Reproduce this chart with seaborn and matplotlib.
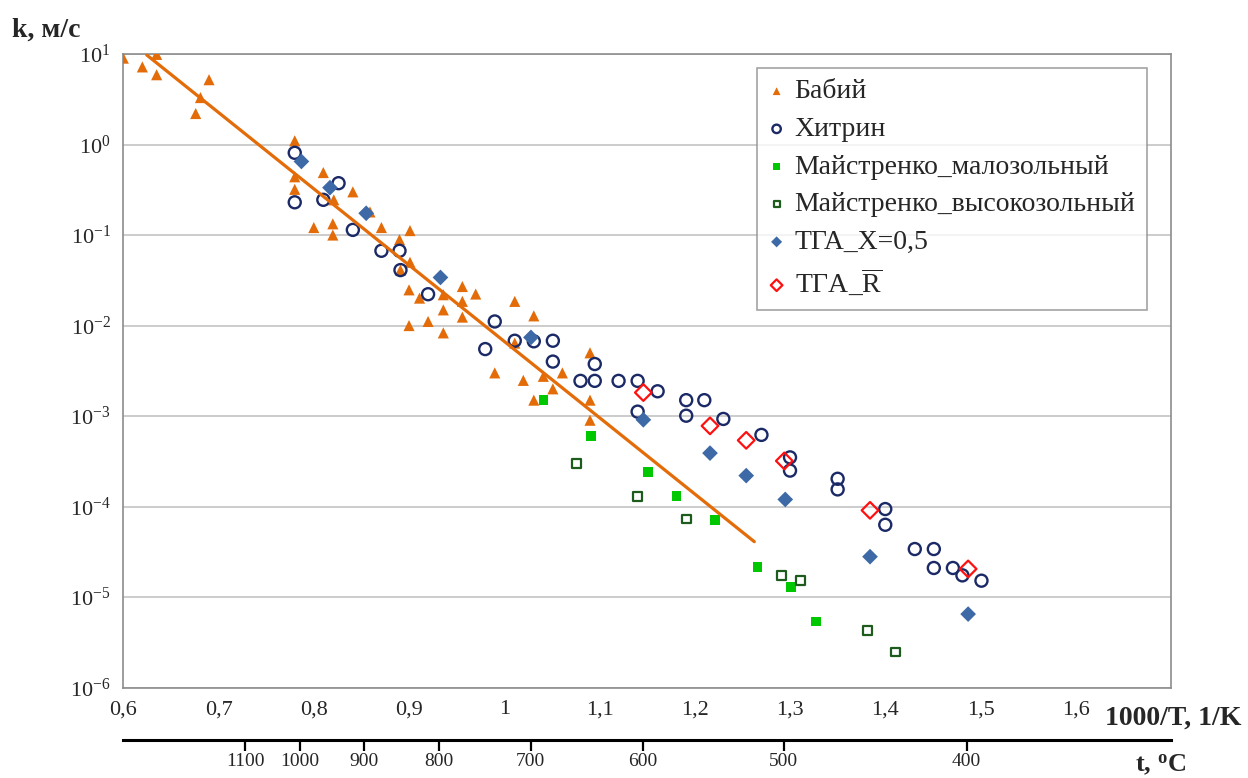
import matplotlib
matplotlib.use("Agg")
import matplotlib.pyplot as plt
import matplotlib.ticker as mticker
import numpy as np
import seaborn as sns

# Бабий
babiy_x = [0.600, 0.620, 0.635, 0.635, 0.690, 0.681, 0.676, 0.780, 0.780, 0.780,
           0.810, 0.821, 0.841, 0.800, 0.820, 0.820, 0.859, 0.871, 0.890, 0.901,
           0.901, 0.891, 0.900, 0.911, 0.936, 0.936, 0.956, 0.956, 0.956, 0.970,
           0.900, 0.920, 0.936, 1.011, 1.031, 0.990, 1.020, 1.031, 1.041, 1.051,
           1.061, 1.090, 1.090, 1.090, 1.011]
babiy_k = [9.0, 7.2, 9.9, 5.9, 5.2, 3.3, 2.2, 1.1, 0.44, 0.32,
           0.49, 0.245, 0.30, 0.121, 0.133, 0.10, 0.18, 0.121, 0.089, 0.112,
           0.050, 0.041, 0.0248, 0.0201, 0.0219, 0.0149, 0.027, 0.0185, 0.0124, 0.0223,
           0.0100, 0.0111, 0.0083, 0.0185, 0.0128, 0.0030, 0.00248, 0.0015, 0.00275, 0.0020,
           0.0030, 0.0050, 0.0015, 0.0009, 0.0064]

# Хитрин
khitrin_x = [0.780, 0.780, 0.810, 0.826, 0.841, 0.871, 0.890, 0.891, 0.920, 0.990,
             0.980, 1.011, 1.031, 1.051, 1.051, 1.080, 1.095, 1.095, 1.120, 1.140,
             1.140, 1.161, 1.191, 1.210, 1.191, 1.230, 1.270, 1.300, 1.300, 1.350,
             1.350, 1.400, 1.400, 1.431, 1.451, 1.451, 1.471, 1.481, 1.501]
khitrin_k = [0.81, 0.23, 0.245, 0.374, 0.114, 0.067, 0.067, 0.041, 0.0222, 0.0111,
             0.0055, 0.0068, 0.0067, 0.0068, 0.0040, 0.00245, 0.00245, 0.00376, 0.00245, 0.00245,
             0.00112, 0.00188, 0.0015, 0.0015, 0.00101, 0.00093, 0.00062, 0.00035, 0.00025, 2.03e-4,
             1.55e-4, 9.4e-5, 6.3e-5, 3.4e-5, 3.4e-5, 2.1e-5, 2.1e-5, 1.74e-5, 1.52e-5]

# Майстренко_малозольный
low_ash_x = [1.041, 1.091, 1.151, 1.181, 1.221, 1.266, 1.301, 1.327]
low_ash_k = [0.0015, 0.0006, 0.00024, 0.00013, 7.1e-5, 2.16e-5, 1.3e-5, 5.4e-6]

# Майстренко_высокозольный
high_ash_x = [1.076, 1.140, 1.191, 1.291, 1.311, 1.381, 1.411]
high_ash_k = [0.0003, 0.00013, 7.3e-5, 1.74e-5, 1.52e-5, 4.3e-6, 2.48e-6]

# ТГА_X=0,5
tga_x_x = [0.787, 0.817, 0.855, 0.933, 1.028, 1.146, 1.216, 1.254, 1.295, 1.384, 1.487]
tga_x_k = [0.65, 0.334, 0.174, 0.034, 0.0074, 0.00091, 0.00039, 0.00022, 0.00012, 2.8e-5, 6.5e-6]

# ТГА_R
tga_r_x = [1.146, 1.216, 1.254, 1.294, 1.384, 1.487]
tga_r_k = [0.00182, 0.00078, 0.00054, 0.00032, 9.1e-5, 2.05e-5]

# trend line through Бабий data
trend_x = [0.6246, 1.2625]
trend_k = [9.75, 4.1e-5]

x_ticks = [0.6, 0.7, 0.8, 0.9, 1.0, 1.1, 1.2, 1.3, 1.4, 1.5, 1.6, 1.7]
t_ticks = [1100, 1000, 900, 800, 700, 600, 500, 400]

ORANGE = "#E36C09"
NAVY = "#1B2A66"
GREEN = "#00C800"
DKGREEN = "#1D5C1D"
STEEL = "#3D6AA6"
RED = "#FF1010"
FRAME = "#8C8C8C"

sns.set_style("white")
plt.rcParams["font.family"] = ["Liberation Serif", "DejaVu Serif"]
plt.rcParams["mathtext.fontset"] = "custom"
plt.rcParams["mathtext.rm"] = "Liberation Serif"
plt.rcParams["mathtext.it"] = "Liberation Serif:italic"
plt.rcParams["mathtext.bf"] = "Liberation Serif:bold"

fig = plt.figure(figsize=(12.48, 7.78), dpi=100)
ax = fig.add_axes([0.0988, 0.1161, 0.8395, 0.8145])

sns.scatterplot(x=babiy_x, y=babiy_k, ax=ax, marker="^", s=64, color=ORANGE,
                edgecolor="none", label="Бабий", zorder=3)
sns.scatterplot(x=khitrin_x, y=khitrin_k, ax=ax, marker="o", s=75, facecolor="none",
                edgecolor=NAVY, linewidth=1.7, label="Хитрин", zorder=3)
sns.scatterplot(x=low_ash_x, y=low_ash_k, ax=ax, marker="s", s=48, color=GREEN,
                edgecolor="none", label="Майстренко_малозольный", zorder=3)
sns.scatterplot(x=high_ash_x, y=high_ash_k, ax=ax, marker="s", s=40, facecolor="none",
                edgecolor=DKGREEN, linewidth=1.6, label="Майстренко_высокозольный", zorder=3)
sns.scatterplot(x=tga_x_x, y=tga_x_k, ax=ax, marker="D", s=64, color=STEEL,
                edgecolor="none", label="ТГА_X=0,5", zorder=4)
sns.scatterplot(x=tga_r_x, y=tga_r_k, ax=ax, marker="D", s=72, facecolor="none",
                edgecolor=RED, linewidth=1.6, label=r"ТГА_$\overline{\mathrm{R}}$", zorder=4)
sns.lineplot(x=trend_x, y=trend_k, ax=ax, color=ORANGE, linewidth=2.3, zorder=5,
             legend=False)

ax.set_yscale("log")
ax.set_ylim(1e-6, 10)
ax.set_xlim(0.6, 1.7)
ax.yaxis.set_major_locator(mticker.LogLocator(base=10, numticks=10))
ax.yaxis.set_minor_locator(mticker.NullLocator())
ax.set_xticks(x_ticks)
ax.xaxis.set_major_formatter(mticker.FuncFormatter(
    lambda v, p: "" if v > 1.65 else f"{v:.1f}".rstrip("0").rstrip(".").replace(".", ",")))

ax.set_axisbelow(True)
ax.yaxis.grid(True, color="#C8C8C8", linewidth=1.3)
ax.xaxis.grid(False)
for sp in ax.spines.values():
    sp.set_color(FRAME)
    sp.set_linewidth(1.2)
ax.tick_params(axis="both", direction="out", length=4, width=1.2, color=FRAME,
               labelsize=16, pad=5)
ax.set_xlabel("")
ax.set_ylabel("")

# temperature axis underneath
def to_t(x):
    with np.errstate(divide="ignore", invalid="ignore"):
        return 1000.0 / np.asarray(x, dtype=float) - 273.15


def to_x(t):
    with np.errstate(divide="ignore", invalid="ignore"):
        return 1000.0 / (np.asarray(t, dtype=float) + 273.15)


sec = ax.secondary_xaxis(-0.082, functions=(to_t, to_x))
sec.set_xticks(t_ticks)
sec.set_xticklabels([str(t) for t in t_ticks])
sec.tick_params(direction="out", length=8, width=1.6, color="black", labelsize=14, pad=1.5)
sec.spines["bottom"].set_color("black")
sec.spines["bottom"].set_linewidth(2.2)
sec.xaxis.label.set_visible(False)
sec.xaxis.get_offset_text().set_visible(False)
ax.xaxis.get_offset_text().set_visible(False)

leg = ax.legend(loc="upper left", bbox_to_anchor=(0.605, 0.978), borderaxespad=0,
                frameon=True, fancybox=False, shadow=False, fontsize=20,
                markerscale=0.7, handlelength=0.6, handletextpad=0.35,
                labelspacing=0.44, borderpad=0.4)
leg.get_frame().set_edgecolor(FRAME)
leg.get_frame().set_linewidth(1.2)

fig.text(12 / 1248, 1 - 37 / 778, "k, м/с", fontsize=20, fontweight="bold",
         ha="left", va="baseline")
fig.text(1105 / 1248, 1 - 725 / 778, "1000/T, 1/K", fontsize=20, fontweight="bold",
         ha="left", va="baseline")
fig.text(1135 / 1248, 1 - 772 / 778, r"t, $^{\mathbf{o}}$C", fontsize=19,
         fontweight="bold", ha="left", va="baseline")

fig.savefig("out.png", dpi=100)
